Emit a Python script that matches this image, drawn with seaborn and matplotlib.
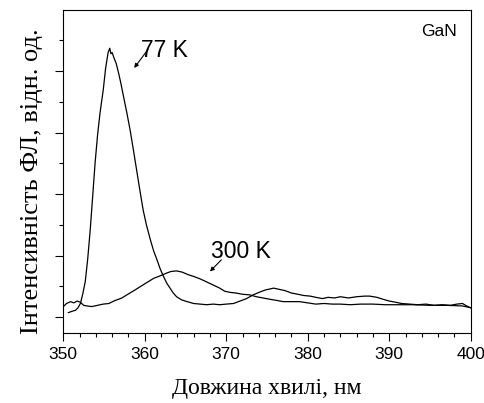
import matplotlib
matplotlib.use('Agg')
import matplotlib.pyplot as plt
from matplotlib.ticker import MultipleLocator, NullFormatter
import seaborn as sns
import pandas as pd

# Wavelength (nm) and PL intensity (arb. units)
wl_77 = [350.6, 351.0, 351.5, 351.8, 352.1, 352.4, 352.7, 353.0, 353.3, 353.6,
         353.9, 354.2, 354.5, 354.9, 355.2, 355.5, 355.7, 355.85, 356.0, 356.2,
         356.5, 356.8, 357.1, 357.4, 357.8, 358.2, 358.6, 359.0, 359.4, 359.8,
         360.2, 360.7, 361.1, 361.5, 361.9, 362.3, 362.7, 363.1, 363.5, 363.9,
         364.5, 365.2, 366.0, 366.8, 367.6, 368.4, 369.2, 370.0, 370.9, 371.7,
         372.5, 373.3, 374.0, 374.8, 375.5, 375.8, 376.5, 377.2, 378.0, 378.8,
         379.5, 380.3, 381.0, 381.8, 382.5, 383.3, 384.0, 385.0, 386.0, 387.0,
         387.6, 388.5, 389.2, 390.0, 390.8, 391.5, 392.5, 393.5, 394.5, 395.5,
         396.5, 397.5, 398.3, 399.0, 399.5, 400.0]
int_77 = [0.07, 0.09, 0.11, 0.15, 0.22, 0.38, 0.58, 0.95, 1.41, 1.95,
          2.50, 2.95, 3.31, 3.69, 4.05, 4.30, 4.37, 4.28, 4.30, 4.22,
          4.12, 3.96, 3.78, 3.58, 3.32, 3.04, 2.72, 2.39, 2.06, 1.74,
          1.50, 1.25, 1.07, 0.93, 0.78, 0.66, 0.55, 0.47, 0.39, 0.33,
          0.28, 0.25, 0.22, 0.21, 0.20, 0.21, 0.20, 0.21, 0.22, 0.26,
          0.30, 0.36, 0.40, 0.44, 0.46, 0.47, 0.45, 0.43, 0.39, 0.37,
          0.35, 0.34, 0.32, 0.30, 0.32, 0.31, 0.33, 0.31, 0.33, 0.34,
          0.34, 0.32, 0.29, 0.26, 0.24, 0.22, 0.21, 0.20, 0.21, 0.19,
          0.20, 0.19, 0.21, 0.22, 0.18, 0.15]

wl_300 = [350.0, 350.4, 350.9, 351.3, 351.7, 352.1, 352.5, 352.9, 353.5, 354.2,
          354.9, 355.6, 356.2, 356.6, 357.2, 357.8, 358.3, 358.8, 359.4, 360.0,
          360.5, 361.1, 361.9, 362.6, 363.2, 363.9, 364.6, 365.3, 366.0, 366.8,
          367.6, 368.4, 369.2, 369.8, 370.5, 371.2, 372.0, 372.9, 373.7, 374.5,
          375.3, 376.2, 377.0, 378.0, 379.0, 380.0, 381.0, 382.0, 383.0, 384.0,
          385.2, 386.5, 388.0, 389.5, 391.3, 393.0, 395.0, 397.0, 399.0, 400.0]
int_300 = [0.17, 0.22, 0.25, 0.23, 0.26, 0.24, 0.19, 0.18, 0.17, 0.19,
           0.21, 0.22, 0.26, 0.28, 0.31, 0.36, 0.40, 0.44, 0.49, 0.54,
           0.58, 0.63, 0.67, 0.71, 0.74, 0.75, 0.73, 0.69, 0.66, 0.62,
           0.57, 0.52, 0.47, 0.42, 0.40, 0.39, 0.37, 0.36, 0.33, 0.31,
           0.29, 0.27, 0.25, 0.25, 0.25, 0.23, 0.21, 0.22, 0.21, 0.21,
           0.20, 0.21, 0.21, 0.20, 0.20, 0.20, 0.19, 0.19, 0.18, 0.15]

x_ticks = [350, 360, 370, 380, 390, 400]
curve_labels = ["77 K", "300 K"]
sample_label = "GaN"
x_title = "Довжина хвилі, нм"
y_title = "Інтенсивність ФЛ, відн. од."

sns.set_theme(style='ticks')
plt.rcParams['font.family'] = ['Liberation Sans', 'DejaVu Sans']
plt.rcParams['text.color'] = 'black'
plt.rcParams['axes.labelcolor'] = 'black'

fig = plt.figure(figsize=(4.85, 4.03), dpi=100)
ax = fig.add_axes([0.1305, 0.1729, 0.840, 0.8023])

df77 = pd.DataFrame({'wl': wl_77, 'I': int_77})
df300 = pd.DataFrame({'wl': wl_300, 'I': int_300})
sns.lineplot(data=df77, x='wl', y='I', ax=ax, color='black', lw=0.9,
             sort=False, estimator=None)
sns.lineplot(data=df300, x='wl', y='I', ax=ax, color='black', lw=0.9,
             sort=False, estimator=None)

ax.set_xlim(350, 400)
ax.set_ylim(-0.265, 4.992)
ax.set_xticks(x_ticks)
ax.set_xticklabels([str(t) for t in x_ticks])
ax.xaxis.set_minor_locator(MultipleLocator(2))
ax.set_yticks([0, 1, 2, 3, 4])
ax.yaxis.set_minor_locator(MultipleLocator(0.5))
ax.yaxis.set_major_formatter(NullFormatter())
ax.tick_params(axis='both', which='major', length=6, width=0.8,
               color='black', direction='out', labelsize=12.5, pad=3.5,
               labelcolor='black')
ax.tick_params(axis='both', which='minor', length=3.2, width=0.8,
               color='black', direction='out')
for s in ax.spines.values():
    s.set_color('black')
    s.set_linewidth(0.8)

ax.set_xlabel(x_title, family=['Liberation Serif', 'DejaVu Serif'],
              fontsize=17, labelpad=12, color='black')
ax.set_ylabel(y_title, family=['Liberation Serif', 'DejaVu Serif'],
              fontsize=19, color='black')
ax.yaxis.set_label_coords(-0.050, 0.4695)

ax.text(362.4, 4.33, curve_labels[0], fontsize=16.5, ha='center',
        va='center', color='black')
ax.annotate('', xy=(358.7, 4.05), xytext=(360.4, 4.35),
            arrowprops=dict(arrowstyle='-|>', lw=0.8, color='black',
                            mutation_scale=6, shrinkA=0, shrinkB=0))
ax.text(371.8, 1.07, curve_labels[1], fontsize=16.5, ha='center',
        va='center', color='black')
ax.annotate('', xy=(368.0, 0.74), xytext=(369.4, 0.93),
            arrowprops=dict(arrowstyle='-|>', lw=0.8, color='black',
                            mutation_scale=6, shrinkA=0, shrinkB=0))
ax.text(396.1, 4.65, sample_label, fontsize=12.5, ha='center', va='center',
        color='black')

fig.savefig('out.png', dpi=100)
